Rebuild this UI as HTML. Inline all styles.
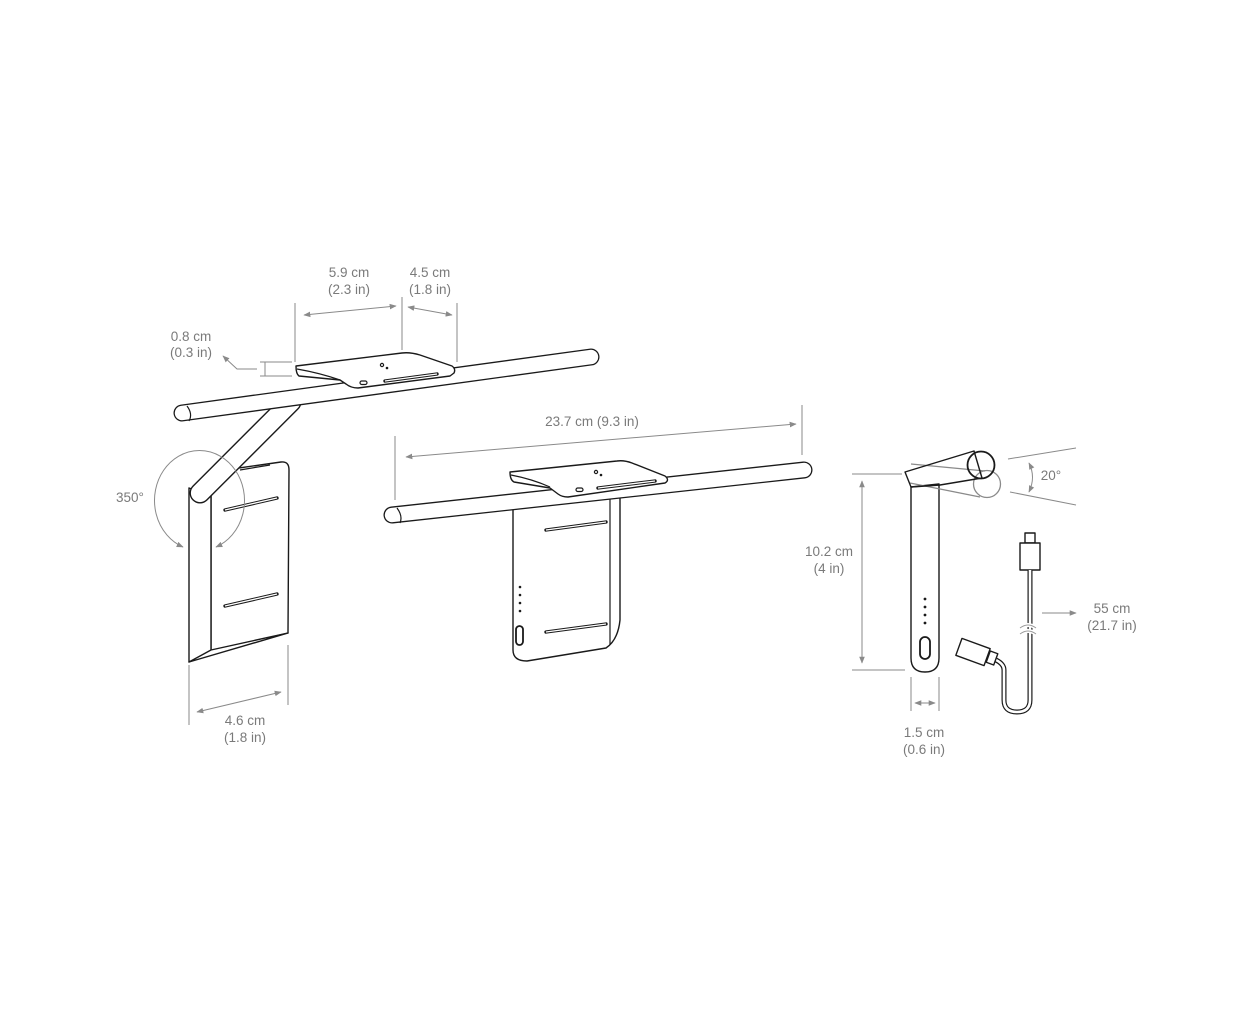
<!DOCTYPE html>
<html><head><meta charset="utf-8"><style>
html,body{margin:0;padding:0;background:#fff}
svg{display:block}
text{font-family:"Liberation Sans",sans-serif;font-size:13.5px;fill:#7a7a7a;text-anchor:middle}
.d{stroke:#8a8a8a;stroke-width:1;fill:none}
.k{stroke:#1a1a1a;stroke-width:1.4;fill:#fff;stroke-linejoin:round}
.s{stroke:#1a1a1a;stroke-width:1.2;fill:none}
</style></head><body>
<svg width="1252" height="1024" viewBox="0 0 1252 1024">
<defs>
<marker id="a" viewBox="0 0 10 10" refX="9" refY="5" markerWidth="7" markerHeight="7" orient="auto-start-reverse"><path d="M0,1 L10,5 L0,9 z" fill="#8a8a8a"/></marker>
</defs>

<!-- LEFT DEVICE -->
<path class="k" d="M211,472 L281,462 Q289,461 289,470 L288,633 L211,652 Z"/>
<path class="s" d="M240,470 L270,465"/>
<path class="k" d="M189,488 L211,496 L211,652 L189,662 Z"/>
<path class="k" d="M189,662 L288,633 L211,650 Z"/>
<path d="M225,510 L277,498 M225,606 L277,594" stroke="#1a1a1a" stroke-width="3.4" stroke-linecap="round" fill="none"/>
<path d="M225,510 L277,498 M225,606 L277,594" stroke="#fff" stroke-width="1.3" fill="none"/>
<path d="M291,402 L200,493" stroke="#1a1a1a" stroke-width="21" stroke-linecap="round"/>
<path d="M291,402 L200,493" stroke="#fff" stroke-width="18.2" stroke-linecap="round"/>
<path d="M182,413 L591,357" stroke="#1a1a1a" stroke-width="17" stroke-linecap="round"/>
<path d="M182,413 L591,357" stroke="#fff" stroke-width="14.4" stroke-linecap="round"/>
<path class="s" d="M187,406 Q193,414 189,421"/>
<path class="k" d="M296,366 L402,353 Q410,352 420,355 L452,366 Q456,369 454,373 L450,376 L358,388 Q351,388 346,384 L340,380 L299,376 Q296,374 296,366 Z"/>
<path class="s" d="M297,369 Q320,373 340,380"/>
<path d="M385,381 L437,374" stroke="#1a1a1a" stroke-width="3.4" stroke-linecap="round" fill="none"/><path d="M385,381 L437,374" stroke="#fff" stroke-width="1.3"/>
<rect x="360" y="381" width="7" height="3.5" rx="1.7" class="s"/>
<circle cx="382" cy="365" r="1.6" class="s"/><circle cx="387" cy="368" r="1.3" fill="#1a1a1a"/>
<path class="d" d="M295,303 V362 M402,297 V350 M457,303 V362"/>
<path class="d" d="M304,315 L396,306" marker-start="url(#a)" marker-end="url(#a)"/>
<path class="d" d="M408,307 L452,315" marker-start="url(#a)" marker-end="url(#a)"/>
<text x="349" y="277">5.9 cm</text><text x="349" y="294">(2.3 in)</text>
<text x="430" y="277">4.5 cm</text><text x="430" y="294">(1.8 in)</text>
<path class="d" d="M260,362 H292 M260,376 H292 M265,362 V376"/>
<path class="d" d="M257,369 H237 L223,356" marker-end="url(#a)"/>
<text x="191" y="341">0.8 cm</text><text x="191" y="357">(0.3 in)</text>
<path class="d" d="M189,665 V725 M288,645 V705"/>
<path class="d" d="M197,712 L281,692" marker-start="url(#a)" marker-end="url(#a)"/>
<text x="245" y="725">4.6 cm</text><text x="245" y="742">(1.8 in)</text>
<path class="d" d="M183,547 A45,50 0 1 1 216,547" marker-start="url(#a)" marker-end="url(#a)"/>
<text x="130" y="502">350°</text>

<!-- MIDDLE DEVICE -->
<path class="k" d="M513,496 L513,650 Q513,661 527,661 L606,648 Q618,640 620,620 L620,496 Z"/>
<path class="s" d="M610,496 V645"/>
<path d="M546,530 L606,522 M546,632 L606,624" stroke="#1a1a1a" stroke-width="3.4" stroke-linecap="round" fill="none"/>
<path d="M546,530 L606,522 M546,632 L606,624" stroke="#fff" stroke-width="1.3" fill="none"/>
<g fill="#1a1a1a"><circle cx="520" cy="587" r="1.3"/><circle cx="520" cy="595" r="1.3"/><circle cx="520" cy="603" r="1.3"/><circle cx="520" cy="611" r="1.3"/></g>
<rect x="516" y="626" width="7" height="19" rx="3.5" fill="none" stroke="#1a1a1a" style="stroke-width:1.8"/>
<path d="M392,515 L804,470" stroke="#1a1a1a" stroke-width="17" stroke-linecap="round"/>
<path d="M392,515 L804,470" stroke="#fff" stroke-width="14.4" stroke-linecap="round"/>
<path class="s" d="M397,508 Q403,516 400,523"/>
<path class="k" d="M510,472 L617,461 Q624,460 632,463 L665,476 Q670,480 665,483 L568,497 Q562,497 558,494 L550,488 L514,482 Q510,480 510,472 Z"/>
<path class="s" d="M511,475 Q532,479 550,487"/>
<path d="M598,488 L655,481" stroke="#1a1a1a" stroke-width="3.4" stroke-linecap="round" fill="none"/><path d="M598,488 L655,481" stroke="#fff" stroke-width="1.3"/>
<rect x="576" y="488" width="7" height="3.5" rx="1.7" class="s"/>
<circle cx="596" cy="472" r="1.6" class="s"/><circle cx="601" cy="475" r="1.3" fill="#1a1a1a"/>
<path class="d" d="M395,436 V500 M802,405 V455"/>
<path class="d" d="M406,457 L796,424" marker-start="url(#a)" marker-end="url(#a)"/>
<text x="592" y="426">23.7 cm (9.3 in)</text>

<!-- RIGHT DEVICE -->
<path class="k" d="M911,487 L911,658 Q911,672 925,672 Q939,672 939,658 L939,484 Z"/>
<g fill="#1a1a1a"><circle cx="925" cy="599" r="1.4"/><circle cx="925" cy="607" r="1.4"/><circle cx="925" cy="615" r="1.4"/><circle cx="925" cy="623" r="1.4"/></g>
<rect x="920" y="637" width="10" height="22" rx="5" fill="none" stroke="#1a1a1a" style="stroke-width:1.8"/>
<path d="M911,464 L985,471 M910,483 L980,497" stroke="#8a8a8a" stroke-width="1.2" fill="none"/>
<circle cx="987" cy="484" r="13.5" fill="none" stroke="#8a8a8a" stroke-width="1.3"/>
<path d="M905,472 L974,451 L982,478 L940,485 L911,487 Z" fill="none" stroke="#1a1a1a" stroke-width="1.4" stroke-linejoin="round"/>
<circle cx="981" cy="465" r="13.5" fill="none" stroke="#1a1a1a" stroke-width="1.8"/>
<path class="d" d="M852,474 H902 M852,670 H905"/>
<path class="d" d="M862,481 V663" marker-start="url(#a)" marker-end="url(#a)"/>
<text x="829" y="556">10.2 cm</text><text x="829" y="573">(4 in)</text>
<path class="d" d="M911,677 V711 M939,677 V711"/>
<path class="d" d="M915,703 L935,703" marker-start="url(#a)" marker-end="url(#a)"/>
<text x="924" y="737">1.5 cm</text><text x="924" y="754">(0.6 in)</text>
<path class="d" d="M1008,459 L1076,448 M1010,492 L1076,505"/>
<path class="d" d="M1029,463 Q1036,477 1029,492" marker-start="url(#a)" marker-end="url(#a)"/>
<text x="1051" y="480">20°</text>
<rect x="1025" y="533" width="10" height="10" class="k"/>
<rect x="1020" y="543" width="20" height="27" class="k"/>
<path d="M1030,570 V700 Q1030,712 1017,712 Q1004,712 1004,700 V670 Q1004,664 996,660" stroke="#1a1a1a" stroke-width="5" fill="none"/>
<path d="M1030,570 V700 Q1030,712 1017,712 Q1004,712 1004,700 V670 Q1004,664 996,660" stroke="#fff" stroke-width="2.6" fill="none"/>
<path d="M1020,628 Q1028,622 1036,628 M1020,634 Q1028,628 1036,634" stroke="#fff" stroke-width="4" fill="none"/>
<path d="M1020,628 Q1028,622 1036,628 M1020,634 Q1028,628 1036,634" stroke="#9a9a9a" stroke-width="1" fill="none"/>
<rect x="988" y="652" width="8" height="12" transform="rotate(20 992 658)" class="k"/>
<rect x="958" y="643" width="30" height="18" transform="rotate(20 973 652)" class="k"/>
<path class="d" d="M1042,613 L1076,613" marker-end="url(#a)"/>
<text x="1112" y="613">55 cm</text><text x="1112" y="630">(21.7 in)</text>
</svg>
</body></html>
